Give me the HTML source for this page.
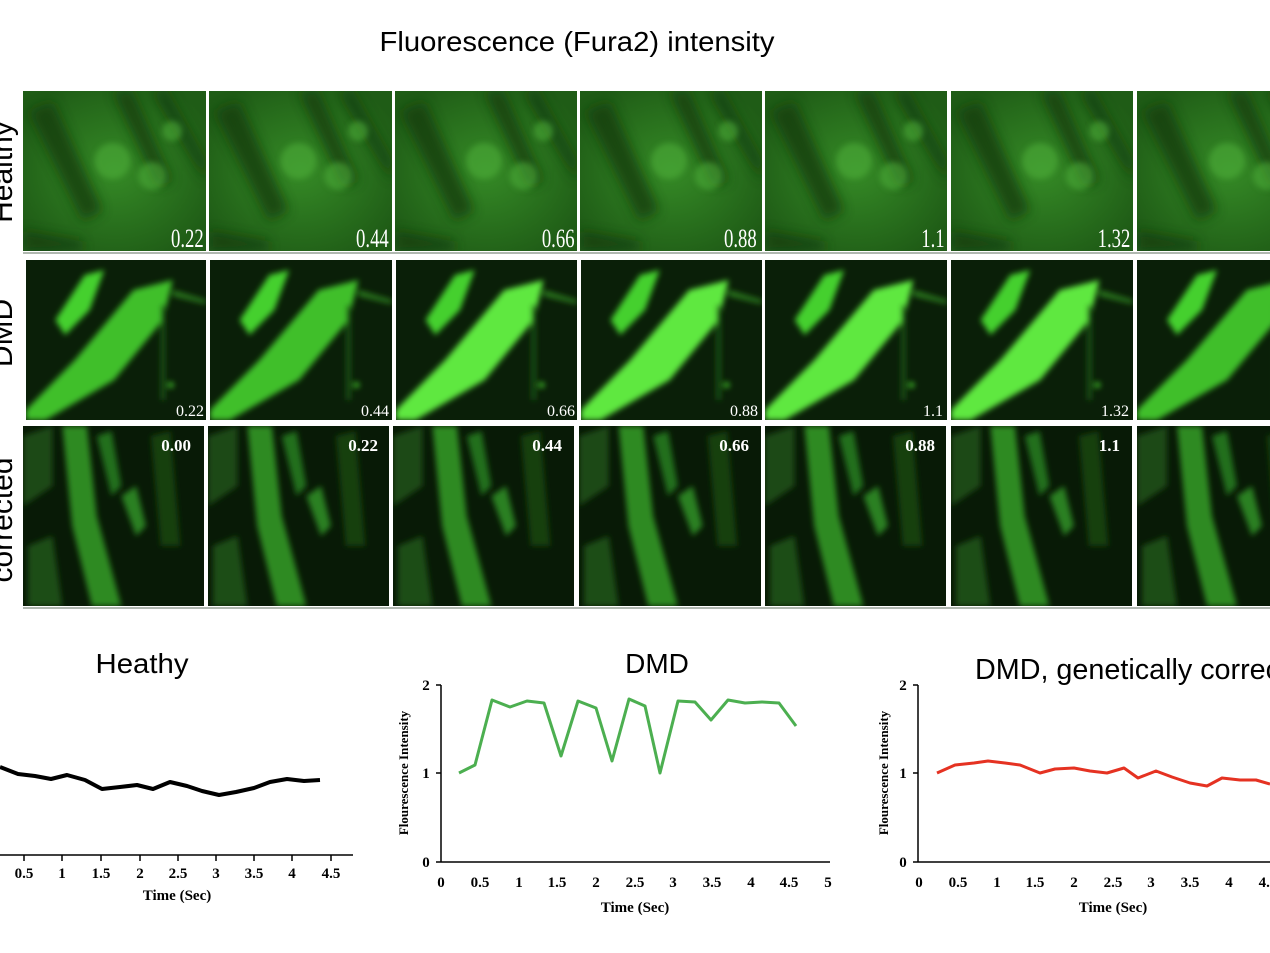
<!DOCTYPE html>
<html><head><meta charset="utf-8"><style>
html,body{margin:0;padding:0;background:#fff;}
svg{display:block;font-family:"Liberation Serif",serif;}
.s{font-family:"Liberation Sans",sans-serif;}
</style></head><body>
<svg width="1270" height="953" viewBox="0 0 1270 953" xmlns="http://www.w3.org/2000/svg">
<defs>
<filter id="bl" x="-20%" y="-20%" width="140%" height="140%"><feGaussianBlur stdDeviation="6"/></filter>
<filter id="bl2" x="-20%" y="-20%" width="140%" height="140%"><feGaussianBlur stdDeviation="3"/></filter>
<radialGradient id="hg" cx="0.5" cy="0.5" r="0.6"><stop offset="0" stop-color="#358a26"/><stop offset="1" stop-color="#1f5c16"/></radialGradient>
<symbol id="H" viewBox="0 0 184 160" preserveAspectRatio="none">
<rect width="184" height="160" fill="url(#hg)"/>
<g filter="url(#bl)" fill="#133d0e" opacity="0.8">
<path d="M5 20 L30 10 L80 120 L60 130 Z"/>
<path d="M90 0 L110 0 L150 90 L135 95 Z"/>
<path d="M130 0 L145 0 L184 70 L184 90 Z"/>
<path d="M0 140 L60 150 L60 160 L0 160Z"/>
</g>
<g filter="url(#bl2)" fill="#4fb03a" opacity="0.55">
<circle cx="90" cy="70" r="18"/><circle cx="130" cy="85" r="14"/><circle cx="150" cy="40" r="10"/>
</g>
</symbol>
<symbol id="D" viewBox="0 0 184 160" preserveAspectRatio="none">
<rect width="184" height="160" fill="#0a1f08"/>
<g filter="url(#bl2)">
<path d="M0 150 L50 100 L110 30 L150 20 L140 60 L90 120 L20 160 L0 160Z" fill="#3fbf2a"/>
<path d="M30 60 L60 15 L80 10 L65 50 L40 75Z" fill="#45d02e"/>
<path d="M150 30 L184 40 L184 44 L150 36Z" fill="#2a7a1e"/>
<rect x="138" y="45" width="4" height="95" fill="#1d5a16"/>
<circle cx="148" cy="125" r="3" fill="#3fbf2a"/>
</g>
</symbol>
<symbol id="D2" viewBox="0 0 184 160" preserveAspectRatio="none">
<rect width="184" height="160" fill="#0a1f08"/>
<g filter="url(#bl2)">
<path d="M0 150 L50 100 L110 30 L150 20 L140 60 L90 120 L20 160 L0 160Z" fill="#5ee83f"/>
<path d="M30 60 L60 15 L80 10 L65 50 L40 75Z" fill="#45d02e"/>
<path d="M150 30 L184 40 L184 44 L150 36Z" fill="#2a7a1e"/>
<rect x="138" y="45" width="4" height="95" fill="#1d5a16"/>
<circle cx="148" cy="125" r="3" fill="#3fbf2a"/>
</g>
</symbol>
<symbol id="C" viewBox="0 0 184 180" preserveAspectRatio="none">
<rect width="184" height="180" fill="#081a06"/>
<g filter="url(#bl2)">
<path d="M40 0 L65 0 L75 90 L100 180 L70 180 L50 100 Z" fill="#2f8a22"/>
<path d="M75 10 L90 5 L100 60 L90 70Z" fill="#23701a"/>
<path d="M100 70 L115 60 L125 100 L115 110Z" fill="#2a8020"/>
<path d="M130 10 L150 5 L160 120 L140 120Z" fill="#163f10"/>
<path d="M0 10 L30 0 L30 60 L0 80Z" fill="#1a4a12"/>
<path d="M5 120 L30 110 L40 180 L5 180Z" fill="#1b4e14"/>
</g>
</symbol>
</defs>

<text x="577" y="51" class="s" font-size="28" text-anchor="middle" fill="#000" textLength="395" lengthAdjust="spacingAndGlyphs">Fluorescence (Fura2) intensity</text>

<g class="s" font-size="30" fill="#000">
<text transform="translate(12,172) rotate(-90)" text-anchor="middle">Healthy</text>
<text transform="translate(12,333) rotate(-90)" text-anchor="middle">DMD</text>
<text transform="translate(12,520) rotate(-90)" text-anchor="middle">corrected</text>
</g>

<g>
<use href="#H" x="23" y="91" width="183" height="160"/>
<use href="#H" x="209" y="91" width="183" height="160"/>
<use href="#H" x="395" y="91" width="182" height="160"/>
<use href="#H" x="580" y="91" width="182" height="160"/>
<use href="#H" x="765" y="91" width="182" height="160"/>
<use href="#H" x="951" y="91" width="182" height="160"/>
<use href="#H" x="1137" y="91" width="184" height="160"/>
<use href="#D" x="26" y="260" width="180" height="160"/>
<use href="#D" x="210" y="260" width="182" height="160"/>
<use href="#D2" x="396" y="260" width="181" height="160"/>
<use href="#D2" x="581" y="260" width="181" height="160"/>
<use href="#D2" x="765" y="260" width="182" height="160"/>
<use href="#D2" x="951" y="260" width="182" height="160"/>
<use href="#D" x="1137" y="260" width="184" height="160"/>
<use href="#C" x="23" y="426" width="181" height="180"/>
<use href="#C" x="208" y="426" width="181" height="180"/>
<use href="#C" x="393" y="426" width="181" height="180"/>
<use href="#C" x="579" y="426" width="182" height="180"/>
<use href="#C" x="765" y="426" width="181" height="180"/>
<use href="#C" x="951" y="426" width="181" height="180"/>
<use href="#C" x="1137" y="426" width="184" height="180"/>
</g>
<g fill="#b0b8b0"><rect x="23" y="607" width="1247" height="2"/><rect x="23" y="252" width="1247" height="2"/></g>

<g fill="#fff" font-size="26" transform="scale(0.72,1)">
<text x="283" y="247" text-anchor="end">0.22</text>
<text x="540" y="247" text-anchor="end">0.44</text>
<text x="798" y="247" text-anchor="end">0.66</text>
<text x="1051" y="247" text-anchor="end">0.88</text>
<text x="1312" y="247" text-anchor="end">1.1</text>
<text x="1570" y="247" text-anchor="end">1.32</text>
</g>
<g fill="#fff" font-size="16" text-anchor="end">
<text x="204" y="416">0.22</text><text x="389" y="416">0.44</text><text x="575" y="416">0.66</text>
<text x="758" y="416">0.88</text><text x="943" y="416">1.1</text><text x="1129" y="416">1.32</text>
</g>
<g fill="#fff" font-size="17" font-weight="bold" text-anchor="end">
<text x="191" y="451">0.00</text><text x="378" y="451">0.22</text><text x="562" y="451">0.44</text>
<text x="749" y="451">0.66</text><text x="935" y="451">0.88</text><text x="1120" y="451">1.1</text>
</g>

<!-- Healthy chart -->
<text x="142" y="673" class="s" font-size="28" text-anchor="middle" textLength="93" lengthAdjust="spacingAndGlyphs">Heathy</text>
<line x1="0" y1="855" x2="353" y2="855" stroke="#000" stroke-width="1.5"/>
<g stroke="#000" stroke-width="1.5"><line x1="24" y1="855" x2="24" y2="861"/><line x1="62" y1="855" x2="62" y2="861"/><line x1="101" y1="855" x2="101" y2="861"/><line x1="140" y1="855" x2="140" y2="861"/><line x1="178" y1="855" x2="178" y2="861"/><line x1="216" y1="855" x2="216" y2="861"/><line x1="254" y1="855" x2="254" y2="861"/><line x1="292" y1="855" x2="292" y2="861"/><line x1="331" y1="855" x2="331" y2="861"/></g>
<g font-size="15" font-weight="bold" text-anchor="middle"><text x="24" y="878">0.5</text><text x="62" y="878">1</text><text x="101" y="878">1.5</text><text x="140" y="878">2</text><text x="178" y="878">2.5</text><text x="216" y="878">3</text><text x="254" y="878">3.5</text><text x="292" y="878">4</text><text x="331" y="878">4.5</text>
<text x="177" y="900">Time (Sec)</text></g>
<polyline fill="none" stroke="#000" stroke-width="4" stroke-linejoin="round" points="0,767 18,774 35,776 51,779 67,775 85,780 102,789 120,787 137,785 153,789 170,782 187,786 202,791 219,795 236,792 254,788 270,782 287,779 304,781 320,780"/>

<!-- DMD chart -->
<text x="657" y="673" class="s" font-size="28" text-anchor="middle">DMD</text>
<g stroke="#000" stroke-width="1.5"><line x1="441" y1="685" x2="441" y2="862"/><line x1="441" y1="862" x2="830" y2="862"/>
<line x1="436" y1="685" x2="441" y2="685"/><line x1="436" y1="773" x2="441" y2="773"/><line x1="436" y1="862" x2="441" y2="862"/></g>
<g font-size="15" font-weight="bold" text-anchor="middle">
<text x="426" y="690">2</text><text x="426" y="778">1</text><text x="426" y="867">0</text>
<text x="441" y="887">0</text><text x="480" y="887">0.5</text><text x="519" y="887">1</text><text x="557" y="887">1.5</text><text x="596" y="887">2</text><text x="635" y="887">2.5</text><text x="673" y="887">3</text><text x="712" y="887">3.5</text><text x="751" y="887">4</text><text x="789" y="887">4.5</text><text x="828" y="887">5</text>
<text x="635" y="912">Time (Sec)</text>
<text transform="translate(408,773) rotate(-90)" font-size="13">Flourescence Intensity</text></g>
<polyline fill="none" stroke="#4caf50" stroke-width="3" stroke-linejoin="round" points="459,773 475,765 492,700 510,707 527,701 544,703 561,756 578,701 596,708 612,761 629,699 645,706 660,773 678,701 695,702 711,720 728,700 745,703 762,702 779,703 796,726"/>

<!-- Corrected chart -->
<text x="975" y="679" class="s" font-size="29" textLength="345" lengthAdjust="spacingAndGlyphs">DMD, genetically corrected</text>
<g stroke="#000" stroke-width="1.5"><line x1="918" y1="685" x2="918" y2="862"/><line x1="918" y1="862" x2="1270" y2="862"/>
<line x1="913" y1="685" x2="918" y2="685"/><line x1="913" y1="773" x2="918" y2="773"/><line x1="913" y1="862" x2="918" y2="862"/></g>
<g font-size="15" font-weight="bold" text-anchor="middle">
<text x="903" y="690">2</text><text x="903" y="778">1</text><text x="903" y="867">0</text>
<text x="919" y="887">0</text><text x="958" y="887">0.5</text><text x="997" y="887">1</text><text x="1035" y="887">1.5</text><text x="1074" y="887">2</text><text x="1113" y="887">2.5</text><text x="1151" y="887">3</text><text x="1190" y="887">3.5</text><text x="1229" y="887">4</text><text x="1268" y="887">4.5</text>
<text x="1113" y="912">Time (Sec)</text>
<text transform="translate(888,773) rotate(-90)" font-size="13">Flourescence Intensity</text></g>
<polyline fill="none" stroke="#e53222" stroke-width="3" stroke-linejoin="round" points="937,773 955,765 974,763 988,761 1005,763 1020,765 1040,773 1055,769 1074,768 1090,771 1107,773 1124,768 1138,778 1156,771 1172,777 1190,783 1207,786 1222,778 1240,780 1256,780 1270,784"/>
</svg>
</body></html>
